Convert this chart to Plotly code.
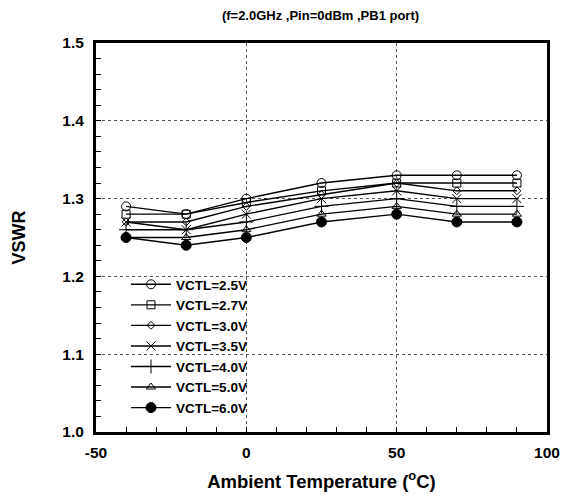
import plotly.graph_objects as go

temps = [-40, -20, 0, 25, 50, 70, 90]
v25 = [1.29, 1.28, 1.30, 1.32, 1.33, 1.33, 1.33]
v27 = [1.28, 1.28, 1.295, 1.31, 1.32, 1.32, 1.32]
v30 = [1.27, 1.27, 1.29, 1.305, 1.32, 1.31, 1.31]
v35 = [1.27, 1.26, 1.28, 1.30, 1.31, 1.30, 1.30]
v40 = [1.26, 1.26, 1.27, 1.29, 1.30, 1.29, 1.29]
v50 = [1.25, 1.25, 1.26, 1.28, 1.29, 1.28, 1.28]
v60 = [1.25, 1.24, 1.25, 1.27, 1.28, 1.27, 1.27]
names = ["VCTL=2.5V", "VCTL=2.7V", "VCTL=3.0V", "VCTL=3.5V", "VCTL=4.0V", "VCTL=5.0V", "VCTL=6.0V"]
series = [v25, v27, v30, v35, v40, v50, v60]
x_tick_vals = [-50, 0, 50, 100]
x_tick_labels = ["-50", "0", "50", "100"]
y_tick_vals = [1.0, 1.1, 1.2, 1.3, 1.4, 1.5]
y_tick_labels = ["1.0", "1.1", "1.2", "1.3", "1.4", "1.5"]

symbols = ["circle-open", "square-open", "diamond-open", "x-thin-open", "cross-thin-open", "triangle-up-open", "circle"]
sizes = [9, 8, 6, 9, 10, 8, 10]

fig = go.Figure()
for n, s, sym, sz in zip(names, series, symbols, sizes):
    fig.add_trace(go.Scatter(
        x=temps, y=s, name=n, mode="lines+markers",
        line=dict(color="black", width=1.4),
        marker=dict(symbol=sym, size=sz, color="black", line=dict(color="black", width=1)),
    ))

FONT = "Arial, Liberation Sans"
axis_common = dict(
    showline=True, linecolor="black", linewidth=3, mirror=True,
    ticks="inside", ticklen=5, tickcolor="black", tickwidth=1,
    showgrid=True, gridcolor="#555555", griddash="dot", gridwidth=1,
    zeroline=False, automargin=False,
    tickfont=dict(family=FONT, size=15.5, color="black", weight="bold"),
)

fig.update_xaxes(range=[-50, 100], tickmode="array", tickvals=x_tick_vals, ticktext=x_tick_labels,
                 ticklabelstandoff=4,
                 minor=dict(dtick=10, tick0=-50, ticks="inside", ticklen=5, tickcolor="black", showgrid=False),
                 title=dict(text="Ambient Temperature (<sup>o</sup>C)",
                            font=dict(family=FONT, size=18.5, color="black", weight="bold"),
                            standoff=16),
                 **axis_common)
fig.update_yaxes(range=[1.0, 1.5], tickmode="array", tickvals=y_tick_vals, ticktext=y_tick_labels,
                 ticklabelstandoff=6,
                 minor=dict(dtick=0.02, tick0=1.0, ticks="inside", ticklen=5, tickcolor="black", showgrid=False),
                 title=dict(text="VSWR",
                            font=dict(family=FONT, size=18, color="black", weight="bold"),
                            standoff=33),
                 **axis_common)

fig.update_layout(
    width=561, height=489,
    margin=dict(l=88, r=22, t=35, b=65, autoexpand=False),
    paper_bgcolor="white", plot_bgcolor="white",
    title=dict(text="(f=2.0GHz ,Pin=0dBm ,PB1 port)", x=0.557, xanchor="center", y=0.994, yanchor="top",
               pad=dict(t=0), font=dict(family=FONT, size=13, color="black", weight="bold")),
    legend=dict(x=0.0665, y=0.419, xanchor="left", yanchor="top", bgcolor="rgba(0,0,0,0)",
                font=dict(family=FONT, size=13.5, color="black", weight="bold"),
                tracegroupgap=0, itemwidth=40),
    showlegend=True,
)

fig.write_html("out.html")
